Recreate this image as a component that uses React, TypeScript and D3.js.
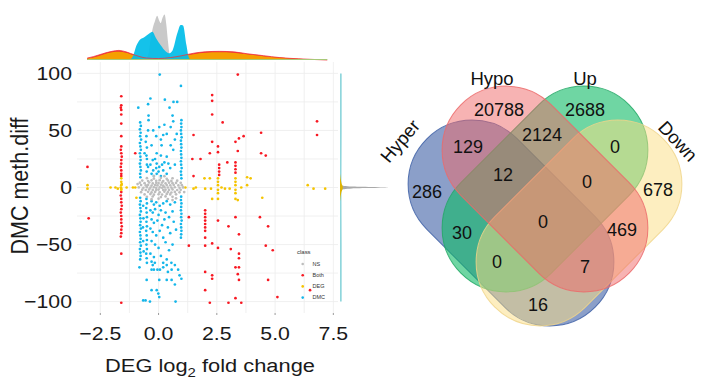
import React from "react";
import * as d3 from "d3";

// ---- scatter data: [DEG log2 fold change, DMC meth.diff] ----
const dmcPts: [number, number][] = [
  // column near -0.8
  [-0.79, 57], [-0.76, 54], [-0.8, 51], [-0.77, 48], [-0.79, 45], [-0.75, 42], [-0.8, 39], [-0.78, 36],
  [-0.76, 33], [-0.8, 30], [-0.78, 27], [-0.77, 24], [-0.8, 21], [-0.78, 18], [-0.76, 15], [-0.79, 12],
  [-0.78, 9], [-0.79, -9], [-0.77, -12], [-0.8, -15], [-0.78, -18], [-0.76, -21], [-0.8, -24], [-0.78, -27],
  [-0.77, -30], [-0.79, -33], [-0.76, -36], [-0.8, -39], [-0.78, -42], [-0.77, -45], [-0.79, -48], [-0.76, -51],
  [-0.8, -54], [-0.78, -57], [-0.77, -60], [-0.79, -63], [-0.82, -70], [-0.87, 70],
  // column near -0.5
  [-0.52, 45], [-0.5, 35], [-0.52, 28], [-0.5, 20], [-0.51, 14],
  [-0.52, -10], [-0.5, -14], [-0.53, -18], [-0.51, -22], [-0.5, -26], [-0.52, -30], [-0.5, -34], [-0.53, -38],
  [-0.51, -42], [-0.5, -46], [-0.52, -50], [-0.5, -54], [-0.53, -58], [-0.51, -62], [-0.5, -66], [-0.51, -81],
  [-0.66, -16], [-0.65, -27], [-0.67, -35], [-0.66, -47], [-0.64, -56], [-0.66, -99], [-0.56, -99],
  // column near 1.0
  [0.97, 56], [0.98, 53], [0.96, 50], [0.97, 47], [0.99, 44], [0.96, 41], [0.97, 38], [0.98, 35],
  [0.96, 32], [0.97, 29], [0.98, 26], [0.96, 23], [0.97, 20], [0.99, 17], [0.96, 14], [0.97, 11],
  [0.98, 8], [0.97, -8], [0.96, -11], [0.98, -14], [0.97, -17], [0.96, -20], [0.98, -23], [0.97, -26],
  [0.99, -29], [0.96, -32], [0.97, -35], [0.98, -38], [0.97, -41], [0.96, -44],
  [0.96, 89], [0.98, 59], [0.98, -80],
  // scattered above zero
  [0.05, 99], [-0.35, 78], [-0.45, 73], [0.27, 77], [0.64, 75], [0.8, 75], [0.47, 70], [-0.43, 63],
  [0.6, 63], [-0.43, 59], [-0.23, 50], [0.03, 53], [0.2, 46], [0.35, 47], [-0.3, 37], [-0.08, 30],
  [0.13, 37], [0.52, 37], [0.63, 33], [0.35, 27], [0.42, 21], [-0.08, 21], [0.03, 18], [-0.23, 15],
  [0.2, 15], [-0.08, 12], [-0.3, 12], [0.35, 12], [0.52, 53], [0.63, 58], [0.78, 47], [0.7, 42],
  [-0.5, 25], [-0.45, 18], [-0.15, 25], [0.1, 28], [0.25, 22], [0.5, 17], [0.7, 20], [-0.6, 30],
  [-0.55, 40], [0.1, 42], [-0.1, 45], [0.25, 55], [-0.45, 50], [-0.2, 10], [-0.1, 17], [0.0, 14],
  [0.1, 10], [-0.35, 20], [0.15, 20], [-0.25, 24],
  // scattered below zero
  [-0.3, -12], [-0.2, -15], [-0.1, -13], [0.05, -16], [0.2, -14], [0.35, -12], [0.5, -15], [0.7, -13],
  [-0.35, -20], [-0.25, -22], [-0.15, -19], [0.0, -24], [0.1, -20], [0.3, -22], [0.45, -26], [0.6, -21],
  [-0.3, -28], [-0.2, -31], [-0.05, -29], [0.15, -33], [0.25, -28], [0.4, -35], [0.65, -30],
  [-0.35, -36], [-0.25, -39], [-0.1, -42], [0.05, -38], [0.2, -44], [0.5, -40], [0.75, -37],
  [-0.3, -47], [-0.15, -50], [0.0, -53], [0.3, -48], [0.45, -55], [0.6, -50],
  [-0.35, -58], [-0.2, -61], [0.1, -60], [0.35, -63], [0.55, -66],
  [-0.25, -68], [-0.05, -72], [0.2, -70], [0.4, -74], [0.7, -68],
  [-0.3, -65], [-0.16, -66], [0.2, -66], [0.35, -68], [-0.3, -72], [-0.2, -72], [0.06, -72], [0.56, -72],
  [0.84, -72], [0.9, -77], [0.03, -81], [0.35, -81], [0.56, -81], [0.7, -85], [-0.3, -90], [-0.08, -90],
  [-0.01, -93], [0.03, -96], [-0.37, -100], [0.73, -100],
];

const bothPts: [number, number][] = [
  [-1.6, 80], [-1.6, 72], [-1.62, 70], [-1.6, 68], [-1.6, 64], [-1.6, 56], [-1.6, 45], [-1.6, 36],
  [-1.62, 33], [-1.6, 30], [-1.58, 27], [-1.6, 24], [-1.6, 21], [-1.62, 18], [-1.6, 15], [-1.6, 12],
  [-1.6, 10], [-1.6, -4], [-1.62, -7], [-1.6, -10], [-1.6, -13], [-1.58, -16], [-1.6, -19], [-1.62, -22],
  [-1.6, -25], [-1.6, -28], [-1.6, -31], [-1.58, -34], [-1.6, -37], [-1.6, -40], [-1.62, -43], [-1.6, -58],
  [-1.6, -101], [-3.05, 18], [-3.0, -27], [-1.0, 30],
  [1.5, 46], [1.45, 25], [1.8, 25], [1.5, 10], [2.3, 40], [2.2, 30], [2.55, 36], [2.55, 31],
  [2.6, 20], [2.6, 17], [2.6, 14], [2.6, 11], [2.95, 22], [3.3, 40], [3.4, 32], [3.3, 22],
  [3.3, 19], [3.3, 16], [3.3, 13], [3.45, 43], [3.65, 45], [4.4, 48], [4.4, 30], [4.6, 28],
  [2.75, 57], [6.8, 46], [6.8, 58], [3.4, 99], [2.3, 81], [2.3, 76], [2.3, 64],
  [1.3, -26], [2.0, -20], [2.0, -23], [2.0, -26], [2.0, -29], [2.0, -32], [2.0, -35], [2.0, -38],
  [2.0, -44], [2.0, -51], [2.3, -49], [2.55, -29], [2.55, -53], [3.0, -34], [3.1, -54], [3.3, -26],
  [3.45, -41], [3.45, -58], [3.45, -62], [3.3, -70], [3.45, -70], [4.35, -26], [4.7, -34], [4.6, -51],
  [4.9, -55], [1.3, -51], [2.0, -74], [2.3, -77], [2.3, -80], [2.0, -90], [3.4, -76], [3.45, -81],
  [4.7, -81], [5.1, -96], [6.5, -90], [2.2, -101], [3.0, -101], [3.3, -97], [3.55, -101],
];

const degPts: [number, number][] = [
  [-3.05, 2], [-3.05, -1], [-2.06, 0], [-1.85, 0], [-1.75, -1], [-1.6, 8], [-1.6, 5], [-1.6, 2],
  [-1.6, -1], [-1.62, 0], [-1.58, 3], [-1.6, -2], [-1.37, 0], [-1.1, 0], [-1.0, 0], [-0.95, -9],
  [1.15, 0], [1.5, -1], [1.97, 8], [2.2, 8], [2.0, -1], [2.25, -1], [2.55, 8], [2.55, 5],
  [2.55, 2], [2.55, -2], [2.55, -5], [2.55, -10], [2.85, -1], [3.05, -1], [3.3, 8], [3.3, 5],
  [3.3, 2], [3.3, -2], [3.3, -5], [3.3, -10], [3.4, -11], [3.8, 9], [3.95, 8], [3.8, 2],
  [4.45, -9], [6.4, 2], [6.65, -1], [7.15, -1], [2.3, -10], [1.6, 0], [2.7, 0], [3.55, 0],
];

const nsPts: [number, number][] = [
  [-0.5, 8.2], [-0.2, 7.8], [0.1, 8.5], [0.35, 7.6], [0.6, 8.1],
  [-0.7, 6.1], [-0.45, 5.7], [-0.3, 6.3], [-0.1, 5.9], [0.05, 6.4], [0.2, 5.6], [0.4, 6.2], [0.55, 5.8], [0.8, 6.0],
  [-0.8, 4.2], [-0.6, 3.8], [-0.4, 4.4], [-0.25, 3.6], [-0.1, 4.1], [0.0, 3.9], [0.15, 4.3], [0.3, 3.7],
  [0.45, 4.2], [0.6, 3.8], [0.75, 4.0], [0.95, 4.1],
  [-0.75, 2.1], [-0.55, 1.8], [-0.45, 2.3], [-0.3, 1.7], [-0.15, 2.2], [-0.05, 1.9], [0.1, 2.4], [0.2, 1.6],
  [0.35, 2.1], [0.5, 1.9], [0.65, 2.2], [0.85, 1.8], [1.0, 2.0],
  [-0.85, 0.1], [-0.65, -0.2], [-0.5, 0.3], [-0.35, -0.1], [-0.2, 0.2], [-0.1, -0.3], [0.05, 0.1], [0.15, -0.2],
  [0.25, 0.3], [0.4, 0.0], [0.55, -0.1], [0.7, 0.2], [0.9, -0.2], [1.05, 0.1],
  [-0.7, -1.9], [-0.55, -2.2], [-0.4, -1.7], [-0.25, -2.1], [-0.1, -2.3], [0.0, -1.8], [0.2, -2.2], [0.3, -1.9],
  [0.45, -2.1], [0.6, -1.7], [0.8, -2.2], [0.95, -2.0],
  [-0.75, -4.1], [-0.45, -3.8], [-0.3, -4.3], [-0.15, -3.9], [0.05, -4.2], [0.25, -3.7], [0.4, -4.1], [0.55, -4.4],
  [0.7, -3.9], [0.9, -4.2],
  [-0.6, -6.1], [-0.35, -5.8], [-0.2, -6.3], [0.0, -5.9], [0.15, -6.2], [0.35, -5.7], [0.5, -6.1], [0.75, -6.0],
  [-0.5, -8.2], [-0.25, -7.9], [0.1, -8.4], [0.3, -7.8], [0.6, -8.1],
  [-0.3, -10.2], [0.0, -9.8], [0.4, -10.1], [-0.2, 10.1], [0.25, 9.9],
  [1.1, -4], [-0.9, 3], [0.6, -11], [0.75, -9.5],
];

const classNames = ["NS", "Both", "DEG", "DMC"];
const classColors = ["#bdbdbd", "#f81822", "#f5c400", "#14b6ea"];

// ---- marginal densities (relative height) ----
const topDensBoth: [number, number][] = [
  [-3.06, 0.04], [-2.8, 0.07], [-2.4, 0.13], [-2.0, 0.18], [-1.7, 0.2], [-1.4, 0.17], [-1.0, 0.1], [-0.5, 0.04],
  [0, 0.03], [0.5, 0.05], [1.0, 0.09], [1.5, 0.14], [2.0, 0.17], [2.6, 0.18], [3.2, 0.17], [3.8, 0.13],
  [4.5, 0.09], [5.2, 0.05], [6.0, 0.025], [6.8, 0.008], [7.24, 0.0],
];
const topDensDEG: [number, number][] = [
  [-3.06, 0.03], [-2.8, 0.05], [-2.4, 0.11], [-2.0, 0.16], [-1.7, 0.17], [-1.4, 0.15], [-1.0, 0.09], [-0.5, 0.04],
  [0, 0.03], [0.5, 0.04], [1.0, 0.08], [1.5, 0.12], [2.0, 0.15], [2.6, 0.16], [3.2, 0.15], [3.8, 0.12],
  [4.5, 0.08], [5.2, 0.05], [6.0, 0.025], [6.8, 0.008], [7.24, 0.0],
];
const topDensNS: [number, number][] = [
  [-0.6, 0], [-0.45, 0.1], [-0.35, 0.4], [-0.27, 0.62], [-0.15, 0.82], [-0.06, 0.92], [0.03, 0.82], [0.09, 0.77],
  [0.17, 0.88], [0.26, 0.95], [0.33, 0.75], [0.4, 0.4], [0.5, 0.06], [0.6, 0],
];
const topDensDMC: [number, number][] = [
  [-1.25, 0], [-1.1, 0.08], [-0.95, 0.3], [-0.8, 0.42], [-0.6, 0.48], [-0.4, 0.55], [-0.27, 0.59], [-0.1, 0.45],
  [0.1, 0.3], [0.3, 0.18], [0.44, 0.14], [0.6, 0.2], [0.8, 0.55], [0.95, 0.73], [1.05, 0.72], [1.2, 0.3],
  [1.3, 0.05], [1.4, 0],
];
const rightDensNS: [number, number][] = [
  [-6, 0], [-2, 0.03], [-0.8, 0.25], [0, 1], [0.8, 0.25], [2, 0.03], [6, 0],
];
const rightDensDMC: [number, number][] = [
  [-100, 0.035], [-50, 0.035], [0, 0.03], [50, 0.035], [100, 0.035],
];
const rightDensDEG: [number, number][] = [[-12, 0], [-4, 0.03], [0, 0.06], [4, 0.03], [12, 0]];

const xTicks = [-2.5, 0, 2.5, 5, 7.5];
const xMinor = [-1.25, 1.25, 3.75, 6.25];
const yTicks = [-100, -50, 0, 50, 100];
const yMinor = [-75, -25, 25, 75];

// ---- venn data ----
const setNames = ["Hyper", "Hypo", "Up", "Down"];
const setColors = ["#173f93", "#ef6767", "#0fbb66", "#fbdd81"];
const setStroke = ["#3d5fa6", "#ec6a6a", "#22a865", "#f0d58a"];
const regionCounts = [286, 20788, 2688, 678, 129, 2124, 0, 30, 469, 16, 12, 0, 0, 7, 0];

// layout for the venn (pixels)
const vennShape = [
  { cx: 511, cy: 223, rot: 45, op: 0.5 },
  { cx: 545, cy: 189, rot: 45, op: 0.5 },
  { cx: 545, cy: 189, rot: -45, op: 0.6 },
  { cx: 579, cy: 223, rot: -45, op: 0.5 },
];
const drawOrder = [0, 2, 3, 1];
const setLabelPos = [
  { x: 400, y: 141, rot: -50 },
  { x: 492, y: 78, rot: 0 },
  { x: 585, y: 78, rot: 0 },
  { x: 678, y: 141, rot: 47 },
];
const regionPos = [
  [427, 192], [499, 110], [585, 110], [658, 190], [468, 147], [542, 135], [615, 147], [462, 233],
  [622, 230], [538, 305], [503, 175], [587, 182], [497, 262], [585, 267], [543, 222],
];

const FONT = "'Liberation Sans', Arial, Helvetica, sans-serif";
const SX = 1.15; // the left panel is a bit wider than tall

const StretchText = ({ x, y, size, anchor = "middle", rotate = 0, children, fill = "#1a1a1a" }: any) => (
  <text
    transform={`translate(${x},${y}) scale(${SX},1)${rotate ? ` rotate(${rotate})` : ""}`}
    textAnchor={anchor}
    fontSize={size}
    fontFamily={FONT}
    fill={fill}
  >
    {children}
  </text>
);

const fmtX = (v: number) => (v < 0 ? "\u2212" : "") + Math.abs(v).toFixed(1);
const fmtY = (v: number) => (v < 0 ? "\u2212" : "") + Math.abs(v);

export default function App() {
  const x = d3.scaleLinear().domain([-3.5, 7.7]).range([77, 338]);
  const y = d3.scaleLinear().domain([-110, 110]).range([313, 62]);
  const topY = d3.scaleLinear().domain([0, 1]).range([60, 12]);
  const rightX = d3.scaleLinear().domain([0, 1]).range([340, 388]);

  const topArea = d3
    .area<[number, number]>()
    .x((d) => x(d[0]))
    .y0(topY(0))
    .y1((d) => topY(d[1]))
    .curve(d3.curveMonotoneX);
  const rightArea = d3
    .area<[number, number]>()
    .y((d) => y(d[0]))
    .x0(rightX(0))
    .x1((d) => rightX(d[1]))
    .curve(d3.curveMonotoneY);
  const topLine = d3
    .line<[number, number]>()
    .x((d) => x(d[0]))
    .y((d) => topY(d[1]))
    .curve(d3.curveMonotoneX);

  const pointSets: [[number, number][], number][] = [
    [dmcPts, 3],
    [bothPts, 1],
    [degPts, 2],
    [nsPts, 0],
  ];

  const L = 238;
  const Wd = 128;

  return (
    <svg width={714} height={390} style={{ position: "absolute", left: 0, top: 0, background: "#fff" }}>
      {/* grid */}
      <g stroke="#ececec" strokeWidth={0.8}>
        {[...xTicks, ...xMinor].map((t) => (
          <line key={"gx" + t} x1={x(t)} x2={x(t)} y1={y.range()[1]} y2={y.range()[0]} />
        ))}
        {[...yTicks, ...yMinor].map((t) => (
          <line key={"gy" + t} x1={x.range()[0]} x2={x.range()[1]} y1={y(t)} y2={y(t)} />
        ))}
      </g>

      {/* points */}
      {pointSets.map(([pts, ci]) => (
        <g key={ci} fill={classColors[ci]}>
          {pts.map((p, i) => (
            <circle key={i} cx={x(p[0])} cy={y(p[1])} r={1.35} />
          ))}
        </g>
      ))}

      {/* x tick marks + labels */}
      {xTicks.map((t) => (
        <g key={"xt" + t}>
          <line x1={x(t)} x2={x(t)} y1={y.range()[0]} y2={y.range()[0] + 2} stroke="#9a9a9a" strokeWidth={1} />
          <StretchText x={x(t)} y={340} size={18.5}>
            {fmtX(t)}
          </StretchText>
        </g>
      ))}
      {yTicks.map((t) => (
        <StretchText key={"yt" + t} x={72} y={y(t) + 6.6} size={18.5} anchor="end">
          {fmtY(t)}
        </StretchText>
      ))}

      {/* axis titles */}
      <text transform={`translate(210,372) scale(${SX},1)`} textAnchor="middle" fontSize={19} fontFamily={FONT} fill="#1a1a1a">
        DEG log
        <tspan fontSize={13} dy={5}>2</tspan>
        <tspan dy={-5}> fold change</tspan>
      </text>
      <StretchText x={28} y={186} size={21.5} rotate={-90}>
        DMC meth.diff
      </StretchText>

      {/* legend */}
      <StretchText x={297} y={254} size={5.2} anchor="start" fill="#333">
        class
      </StretchText>
      {[0, 1, 2, 3].map((ci, i) => (
        <g key={"lg" + ci}>
          <circle cx={302.7} cy={264 + i * 11.2} r={1.3} fill={classColors[ci]} />
          <StretchText x={312.5} y={265.8 + i * 11.2} size={4.8} anchor="start" fill="#333">
            {classNames[ci]}
          </StretchText>
        </g>
      ))}

      {/* top marginal densities */}
      <path d={topArea(topDensBoth) || ""} fill="#f0343a" />
      <path d={topArea(topDensDEG) || ""} fill="#f59f00" />
      <path d={topArea(topDensNS) || ""} fill="#c9c9c9" />
      <path d={topArea(topDensDMC) || ""} fill="#00bde8" fillOpacity={0.92} />
      <path d={topLine(topDensBoth) || ""} fill="none" stroke="#f0343a" strokeWidth={0.8} />
      <line
        x1={x(topDensBoth[0][0])}
        x2={x(topDensBoth[topDensBoth.length - 1][0])}
        y1={topY(0) - 0.5}
        y2={topY(0) - 0.5}
        stroke="#a8c878"
        strokeWidth={1}
      />

      {/* right marginal densities */}
      <path d={rightArea(rightDensDMC) || ""} fill="#8fd6dc" />
      <path d={rightArea(rightDensNS) || ""} fill="#a9a9a9" />
      <path d={rightArea(rightDensDEG) || ""} fill="#e0b400" />

      {/* venn */}
      {drawOrder.map((i) => {
        const s = vennShape[i];
        return (
          <rect
            key={"v" + i}
            x={-L / 2}
            y={-Wd / 2}
            width={L}
            height={Wd}
            rx={Wd / 2}
            ry={Wd / 2}
            transform={`translate(${s.cx},${s.cy}) rotate(${s.rot})`}
            fill={setColors[i]}
            fillOpacity={s.op}
            stroke={setStroke[i]}
            strokeOpacity={0.85}
            strokeWidth={1}
          />
        );
      })}
      {setNames.map((n, i) => (
        <text
          key={n}
          transform={`translate(${setLabelPos[i].x},${setLabelPos[i].y}) rotate(${setLabelPos[i].rot})`}
          textAnchor="middle"
          dominantBaseline="central"
          fontSize={18.5}
          fontFamily={FONT}
          fill="#111"
        >
          {n}
        </text>
      ))}
      {regionCounts.map((c, i) => (
        <text
          key={"r" + i}
          x={regionPos[i][0]}
          y={regionPos[i][1]}
          textAnchor="middle"
          dominantBaseline="central"
          fontSize={18}
          fontFamily={FONT}
          fill="#111"
        >
          {c}
        </text>
      ))}
    </svg>
  );
}
